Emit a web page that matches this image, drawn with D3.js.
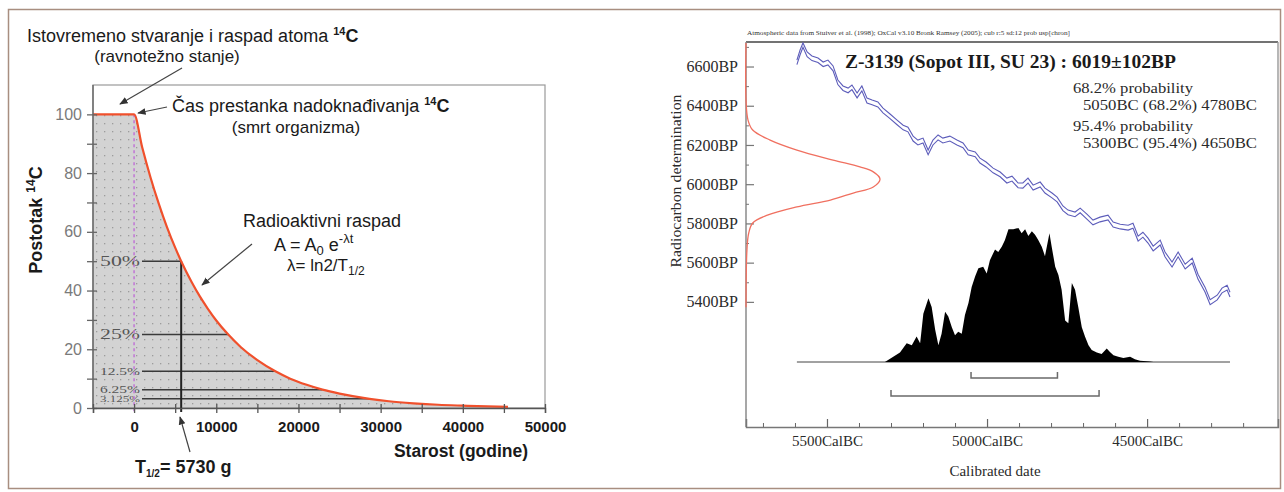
<!DOCTYPE html>
<html><head><meta charset="utf-8">
<script src="https://cdn.jsdelivr.net/npm/d3@7"></script>
<style>body{margin:0;background:#fff} svg{display:block}</style>
</head><body>
<svg id="c" width="1284" height="492"></svg>
<script>
// ---------------- Left panel data ----------------
const decayAge = [-5000, 0, 1000, 2000, 3000, 4000, 5000, 5730, 7000, 8000, 9000, 10000, 11460, 13000, 15000, 17190, 19000, 21000, 22920, 25000, 28650, 31000, 34000, 37000, 40000, 43000, 45500];
const decayPct = [100, 100, 88.6, 78.5, 69.6, 61.6, 54.6, 50, 42.9, 38.0, 33.7, 29.8, 25, 20.7, 16.3, 12.5, 10.0, 7.9, 6.25, 4.9, 3.125, 2.3, 1.6, 1.1, 0.8, 0.55, 0.4];
const halfPct = [50, 25, 12.5, 6.25, 3.125];
const halfAge = [5730, 11460, 17190, 22920, 28650];
const halfLabels = ["50%", "25%", "12.5%", "6.25%", "3.125%"];
const leftXTicks = [0, 10000, 20000, 30000, 40000, 50000];
const leftYTicks = [0, 20, 40, 60, 80, 100];

// ---------------- Right panel data ----------------
const calBC = [5594,5584,5575,5562,5547,5528,5512,5497,5481,5466,5450,5434,5422,5406,5391,5375,5359,5341,5325,5303,5281,5262,5247,5231,5216,5200,5184,5169,5153,5138,5116,5094,5075,5059,5037,5022,5003,4981,4959,4938,4922,4903,4888,4872,4856,4834,4819,4797,4781,4763,4747,4725,4709,4688,4669,4647,4622,4606,4584,4559,4544,4528,4513,4497,4481,4459,4444,4422,4403,4381,4359,4341,4319,4303,4281,4266,4250,4241];
const calHiBP = [6633,6684,6720,6674,6654,6643,6623,6633,6603,6531,6501,6490,6506,6465,6501,6439,6429,6419,6388,6358,6327,6301,6291,6245,6225,6235,6174,6225,6251,6235,6245,6225,6210,6174,6164,6133,6113,6082,6062,6031,6041,6006,6006,6031,5995,6011,5980,5955,5934,5889,5868,5858,5878,5847,5817,5832,5842,5807,5796,5791,5801,5735,5755,5725,5684,5715,5654,5603,5654,5592,5623,5541,5475,5411,5434,5470,5485,5449];
const calLoBP = [6610,6660,6698,6650,6630,6620,6600,6608,6578,6508,6478,6466,6482,6440,6476,6414,6405,6394,6364,6334,6303,6277,6267,6220,6200,6210,6150,6200,6226,6210,6220,6200,6186,6150,6140,6108,6088,6058,6038,6006,6016,5982,5980,6006,5970,5986,5955,5930,5910,5865,5844,5834,5854,5822,5793,5808,5818,5782,5772,5766,5776,5710,5730,5700,5660,5690,5630,5578,5630,5568,5598,5516,5450,5386,5410,5446,5460,5425];
const radBP = [6720, 6430, 6327, 6276, 6225, 6174, 6123, 6088, 6063, 6026, 5986, 5955, 5919, 5884, 5842, 5802, 5750, 5664, 5373];
const radDens = [0, 0, 0.015, 0.05, 0.18, 0.38, 0.65, 0.85, 0.95, 1.0, 0.95, 0.80, 0.63, 0.38, 0.16, 0.05, 0.02, 0.007, 0];
const distBC = [5319,5293,5272,5251,5235,5220,5209,5199,5183,5173,5162,5152,5142,5131,5121,5110,5100,5090,5079,5069,5058,5048,5037,5027,5012,5001,4991,4975,4965,4954,4944,4933,4918,4902,4892,4881,4871,4860,4850,4840,4829,4819,4805,4798,4787,4777,4767,4756,4746,4735,4725,4715,4704,4694,4683,4673,4657,4642,4626,4616,4605,4590,4574,4553,4538,4522,4491,4480];
const distP = [0,0.04,0.07,0.14,0.125,0.19,0.14,0.36,0.475,0.41,0.24,0.125,0.21,0.375,0.34,0.26,0.20,0.225,0.21,0.35,0.44,0.56,0.64,0.70,0.71,0.66,0.76,0.84,0.82,0.86,0.91,0.99,0.99,1.0,0.96,0.99,0.94,0.975,0.95,0.91,0.86,0.79,0.96,0.86,0.71,0.65,0.54,0.31,0.29,0.59,0.54,0.41,0.26,0.19,0.125,0.09,0.07,0.06,0.10,0.075,0.05,0.04,0.03,0.04,0.02,0.01,0.003,0];
const range68 = [5050, 4780];
const range95 = [5300, 4650];
const rightYMajor = [5400, 5600, 5800, 6000, 6200, 6400, 6600];
const rightYMinor = [5500, 5700, 5900, 6100, 6300, 6500, 6700];
const rightXMajor = [5500, 5000, 4500];
const rightXMinor = [5700, 5600, 5400, 5300, 5200, 5100, 4900, 4800, 4700, 4600, 4400, 4300, 4200];
const probLines = ["68.2% probability", "5050BC (68.2%) 4780BC", "95.4% probability", "5300BC (95.4%) 4650BC"];

const svg = d3.select("#c");
const SANS = "'Liberation Sans', Arial, sans-serif";
const SERIF = "'Liberation Serif', 'Times New Roman', serif";

// outer frame
svg.append("rect").attr("x", 8.5).attr("y", 9.5).attr("width", 1272).attr("height", 479)
  .attr("fill", "none").attr("stroke", "#a88e80").attr("stroke-width", 1.5);

// ================= LEFT PANEL =================
const xL = d3.scaleLinear().domain([-5000, 50000]).range([93, 545]);
const yL = d3.scaleLinear().domain([0, 110]).range([408, 85]);
const L = svg.append("g");

const defs = svg.append("defs");
const pat = defs.append("pattern").attr("id", "dots").attr("patternUnits", "userSpaceOnUse")
  .attr("width", 8).attr("height", 8).attr("x", 93).attr("y", 408);
pat.append("rect").attr("width", 8).attr("height", 8).attr("fill", "#d3d3d3");
pat.append("rect").attr("x", 3).attr("y", 3).attr("width", 1.3).attr("height", 1.3).attr("fill", "#9c9c9c");

const decay = decayAge.map((a, i) => [a, decayPct[i]]);
L.append("path").datum(decay)
  .attr("d", d3.area().x(d => xL(d[0])).y0(yL(0)).y1(d => yL(d[1])).curve(d3.curveMonotoneX))
  .attr("fill", "url(#dots)");

// box
L.append("rect").attr("x", xL(-5000)).attr("y", yL(110)).attr("width", xL(50000) - xL(-5000))
  .attr("height", yL(0) - yL(110)).attr("fill", "none").attr("stroke", "#9a9a9a").attr("stroke-width", 1.2);

// half-life lines
halfPct.forEach((p, i) => {
  L.append("line").attr("x1", 142).attr("x2", xL(halfAge[i])).attr("y1", yL(p)).attr("y2", yL(p))
    .attr("stroke", "#3a3a3a").attr("stroke-width", 1.5);
});
const labSize = [14, 14, 11, 10, 9];
halfLabels.forEach((t, i) => {
  L.append("text").attr("x", 140).attr("y", yL(halfPct[i]) + labSize[i] * 0.33).attr("text-anchor", "end")
    .attr("font-family", SERIF).attr("font-size", labSize[i]).attr("fill", "#555")
    .attr("textLength", 40).attr("lengthAdjust", "spacingAndGlyphs").text(t);
});
// vertical T1/2 line
L.append("line").attr("x1", xL(halfAge[0])).attr("x2", xL(halfAge[0])).attr("y1", yL(halfPct[0])).attr("y2", yL(0) + 4)
  .attr("stroke", "#222").attr("stroke-width", 2);
// magenta dashed line at 0
L.append("line").attr("x1", xL(0)).attr("x2", xL(0)).attr("y1", yL(100)).attr("y2", yL(0) + 5)
  .attr("stroke", "#c27bd6").attr("stroke-width", 1.6).attr("stroke-dasharray", "3,3");
// decay curve
L.append("path").datum(decay)
  .attr("d", d3.line().x(d => xL(d[0])).y(d => yL(d[1])).curve(d3.curveMonotoneX))
  .attr("fill", "none").attr("stroke", "#f0502c").attr("stroke-width", 2.2);

// axes
function styleAxis(g, color) {
  g.selectAll(".domain").attr("stroke", color).attr("stroke-width", 1.4);
  g.selectAll(".tick line").attr("stroke", color).attr("stroke-width", 1.3);
}
const gy1 = L.append("g").attr("transform", `translate(${xL(-5000)},0)`)
  .call(d3.axisLeft(yL).tickValues(d3.range(0, 101, 10)).tickSize(6).tickFormat(""));
styleAxis(gy1, "#666");
gy1.select(".domain").remove();
const gy2 = L.append("g").attr("transform", `translate(${xL(-5000)},0)`)
  .call(d3.axisRight(yL).tickValues(d3.range(0, 101, 10)).tickSize(4).tickFormat(""));
styleAxis(gy2, "#666");
gy2.select(".domain").attr("d", `M0,${yL(0)}V${yL(110)}`);
const gyl = L.append("g").attr("transform", `translate(${xL(-5000)},0)`)
  .call(d3.axisLeft(yL).tickValues(leftYTicks).tickSize(0).tickPadding(11));
gyl.select(".domain").remove();
gyl.selectAll("text").attr("font-family", SANS).attr("font-size", 16).attr("fill", "#7a7a7a");

const gx1 = L.append("g").attr("transform", `translate(0,${yL(0)})`)
  .call(d3.axisBottom(xL).tickValues(d3.range(-5000, 50001, 5000)).tickSize(5).tickFormat(""));
styleAxis(gx1, "#555");
const gx2 = L.append("g").attr("transform", `translate(0,${yL(0)})`)
  .call(d3.axisTop(xL).tickValues(d3.range(-5000, 50001, 5000)).tickSize(4).tickFormat(""));
styleAxis(gx2, "#555");
gx2.select(".domain").remove();
const gxl = L.append("g").attr("transform", `translate(0,${yL(0)})`)
  .call(d3.axisBottom(xL).tickValues(leftXTicks).tickSize(0).tickPadding(13).tickFormat(d3.format("d")));
gxl.select(".domain").remove();
gxl.selectAll("text").attr("font-family", SANS).attr("font-size", 15).attr("font-weight", "bold").attr("fill", "#1a1a1a");

// arrow marker
defs.append("marker").attr("id", "arr").attr("viewBox", "0 0 10 10").attr("refX", 9).attr("refY", 5)
  .attr("markerWidth", 7).attr("markerHeight", 7).attr("orient", "auto-start-reverse")
  .append("path").attr("d", "M0,1 L10,5 L0,9 z").attr("fill", "#333");
function arrow(x1, y1, x2, y2) {
  L.append("line").attr("x1", x1).attr("y1", y1).attr("x2", x2).attr("y2", y2)
    .attr("stroke", "#444").attr("stroke-width", 1.2).attr("marker-end", "url(#arr)");
}

// annotations
function txt(x, y, size, weight, anchor) {
  return L.append("text").attr("x", x).attr("y", y).attr("font-family", SANS).attr("font-size", size)
    .attr("font-weight", weight || "normal").attr("text-anchor", anchor || "start").attr("fill", "#1a1a1a");
}
let t = txt(27, 42, 18);
t.append("tspan").text("Istovremeno stvaranje i raspad atoma ");
t.append("tspan").attr("font-size", 11).attr("font-weight", "bold").attr("dy", -7).text("14");
t.append("tspan").attr("font-weight", "bold").attr("dy", 7).text("C");
txt(167, 62, 17, "normal", "middle").text("(ravnotežno stanje)");
arrow(182, 68, 120, 104);

t = txt(172, 112, 18);
t.append("tspan").text("Čas prestanka nadoknađivanja ");
t.append("tspan").attr("font-size", 11).attr("font-weight", "bold").attr("dy", -7).text("14");
t.append("tspan").attr("font-weight", "bold").attr("dy", 7).text("C");
txt(296, 133, 17, "normal", "middle").text("(smrt organizma)");
arrow(167, 107, 138, 113);

txt(322, 227, 18, "normal", "middle").text("Radioaktivni raspad");
t = txt(274, 251, 18);
t.append("tspan").text("A = A");
t.append("tspan").attr("font-size", 13).attr("dy", 4).text("0");
t.append("tspan").attr("dy", -4).text(" e");
t.append("tspan").attr("font-size", 13).attr("dy", -8).text("-λt");
t = txt(287, 271, 17);
t.append("tspan").text("λ= ln2/T");
t.append("tspan").attr("font-size", 12).attr("dy", 4).text("1/2");
arrow(252, 244, 202, 285);

// y label
t = L.append("text").attr("transform", "translate(42,220) rotate(-90)").attr("text-anchor", "middle")
  .attr("font-family", SANS).attr("font-size", 18).attr("font-weight", "bold").attr("fill", "#1a1a1a");
t.append("tspan").text("Postotak ");
t.append("tspan").attr("font-size", 12).attr("dy", -7).text("14");
t.append("tspan").attr("dy", 7).text("C");

txt(461, 457, 17.5, "bold", "middle").text("Starost (godine)");
t = txt(135, 473, 18, "bold");
t.append("tspan").text("T");
t.append("tspan").attr("font-size", 10).attr("dy", 4).text("1/2");
t.append("tspan").attr("dy", -4).text("= 5730 g");
arrow(190, 452, 180, 417);

// ================= RIGHT PANEL =================
const xR = d3.scaleLinear().domain([5753, 4091]).range([746, 1278]);
const yR = d3.scaleLinear().domain([4762, 6725]).range([427, 42]);
const pY = d3.scaleLinear().domain([0, 1]).range([362, 228]);
const dX = d3.scaleLinear().domain([0, 1]).range([746, 880]);
const R = svg.append("g");

// frame
R.append("line").attr("x1", xR(5753)).attr("x2", xR(4091)).attr("y1", yR(6725)).attr("y2", yR(6725))
  .attr("stroke", "#444").attr("stroke-width", 1.6);
R.append("line").attr("x1", xR(4091)).attr("x2", xR(4091)).attr("y1", yR(6725)).attr("y2", yR(4762))
  .attr("stroke", "#999").attr("stroke-width", 1.4);

// y axis
const ry1 = R.append("g").attr("transform", `translate(${xR(5753)},0)`)
  .call(d3.axisRight(yR).tickValues(rightYMajor).tickSize(8).tickFormat(""));
ry1.select(".domain").attr("d", `M0,${yR(6725)}V${yR(4762)}`).attr("stroke", "#8a8a8a").attr("stroke-width", 1.5);
ry1.selectAll(".tick line").attr("stroke", "#777").attr("stroke-width", 1.2);
const ry2 = R.append("g").attr("transform", `translate(${xR(5753)},0)`)
  .call(d3.axisRight(yR).tickValues(rightYMinor).tickSize(3).tickFormat(""));
ry2.select(".domain").remove();
ry2.selectAll(".tick line").attr("stroke", "#777");
const ryl = R.append("g").attr("transform", `translate(${xR(5753)},0)`)
  .call(d3.axisLeft(yR).tickValues(rightYMajor).tickSize(0).tickPadding(8).tickFormat(d => d + "BP"));
ryl.select(".domain").remove();
ryl.selectAll("text").attr("font-family", SERIF).attr("font-size", 16).attr("fill", "#2a2a2a");

// x axis
const rx1 = R.append("g").attr("transform", `translate(0,${yR(4762)})`)
  .call(d3.axisTop(xR).tickValues(rightXMajor).tickSize(8).tickFormat(""));
rx1.select(".domain").attr("stroke", "#777").attr("stroke-width", 1.5);
rx1.selectAll(".tick line").attr("stroke", "#666").attr("stroke-width", 1.2);
const rx2 = R.append("g").attr("transform", `translate(0,${yR(4762)})`)
  .call(d3.axisTop(xR).tickValues(rightXMinor).tickSize(4).tickFormat(""));
rx2.select(".domain").remove();
rx2.selectAll(".tick line").attr("stroke", "#666");
const rxl = R.append("g").attr("transform", `translate(0,${yR(4762)})`)
  .call(d3.axisBottom(xR).tickValues(rightXMajor).tickSize(0).tickPadding(8).tickFormat(d => d + "CalBC"));
rxl.select(".domain").remove();
rxl.selectAll("text").attr("font-family", SERIF).attr("font-size", 15).attr("fill", "#2a2a2a");

// radiocarbon date density on y axis
R.append("path").datum(radBP.map((b, i) => [b, radDens[i]]))
  .attr("d", d3.line().x(d => dX(d[1])).y(d => yR(d[0])).curve(d3.curveCatmullRom))
  .attr("fill", "none").attr("stroke", "#f07060").attr("stroke-width", 1.3);

// calibration curve (two lines)
[calHiBP, calLoBP].forEach(arr => {
  R.append("path").datum(calBC.map((b, i) => [b, arr[i]]))
    .attr("d", d3.line().x(d => xR(d[0])).y(d => yR(d[1])))
    .attr("fill", "none").attr("stroke", "#5c5cba").attr("stroke-width", 1.1);
});

// calibrated distribution
const ext = d3.extent(calBC);
R.append("line").attr("x1", xR(ext[1])).attr("x2", xR(ext[0])).attr("y1", pY(0)).attr("y2", pY(0))
  .attr("stroke", "#444").attr("stroke-width", 1);
R.append("path").datum(distBC.map((b, i) => [b, distP[i]]))
  .attr("d", d3.area().x(d => xR(d[0])).y0(pY(0)).y1(d => pY(d[1])))
  .attr("fill", "#000");

// ranges
function bracket(r, y) {
  R.append("path").attr("d", `M${xR(r[0])},${y - 6}V${y}H${xR(r[1])}V${y - 6}`)
    .attr("fill", "none").attr("stroke", "#6a6a6a").attr("stroke-width", 1.5);
}
bracket(range68, 378);
bracket(range95, 396);

// texts
R.append("text").attr("x", 747).attr("y", 35).attr("font-family", SERIF).attr("font-size", 6).attr("fill", "#333")
  .attr("textLength", 323).attr("lengthAdjust", "spacingAndGlyphs")
  .text("Atmospheric data from Stuiver et al. (1998); OxCal v3.10 Bronk Ramsey (2005); cub r:5 sd:12 prob usp[chron]");
R.append("text").attr("x", 845).attr("y", 68).attr("font-family", SERIF).attr("font-size", 19.5).attr("font-weight", "bold")
  .attr("fill", "#1a1a1a").text("Z-3139 (Sopot III, SU 23) : 6019±102BP");
const pX = [1073, 1083, 1073, 1083];
const pYb = [93, 110, 131, 148];
const pW = [120, 174, 120, 174];
probLines.forEach((s, i) => {
  R.append("text").attr("x", pX[i]).attr("y", pYb[i]).attr("font-family", SERIF).attr("font-size", 15)
    .attr("fill", "#2a2a2a").attr("textLength", pW[i]).attr("lengthAdjust", "spacingAndGlyphs").text(s);
});
R.append("text").attr("transform", "translate(681,181) rotate(-90)").attr("text-anchor", "middle")
  .attr("font-family", SERIF).attr("font-size", 15).attr("fill", "#2a2a2a")
  .attr("textLength", 173).attr("lengthAdjust", "spacingAndGlyphs").text("Radiocarbon determination");
R.append("text").attr("x", 995).attr("y", 476).attr("text-anchor", "middle").attr("font-family", SERIF)
  .attr("font-size", 15).attr("fill", "#2a2a2a").text("Calibrated date");
</script>
</body></html>
